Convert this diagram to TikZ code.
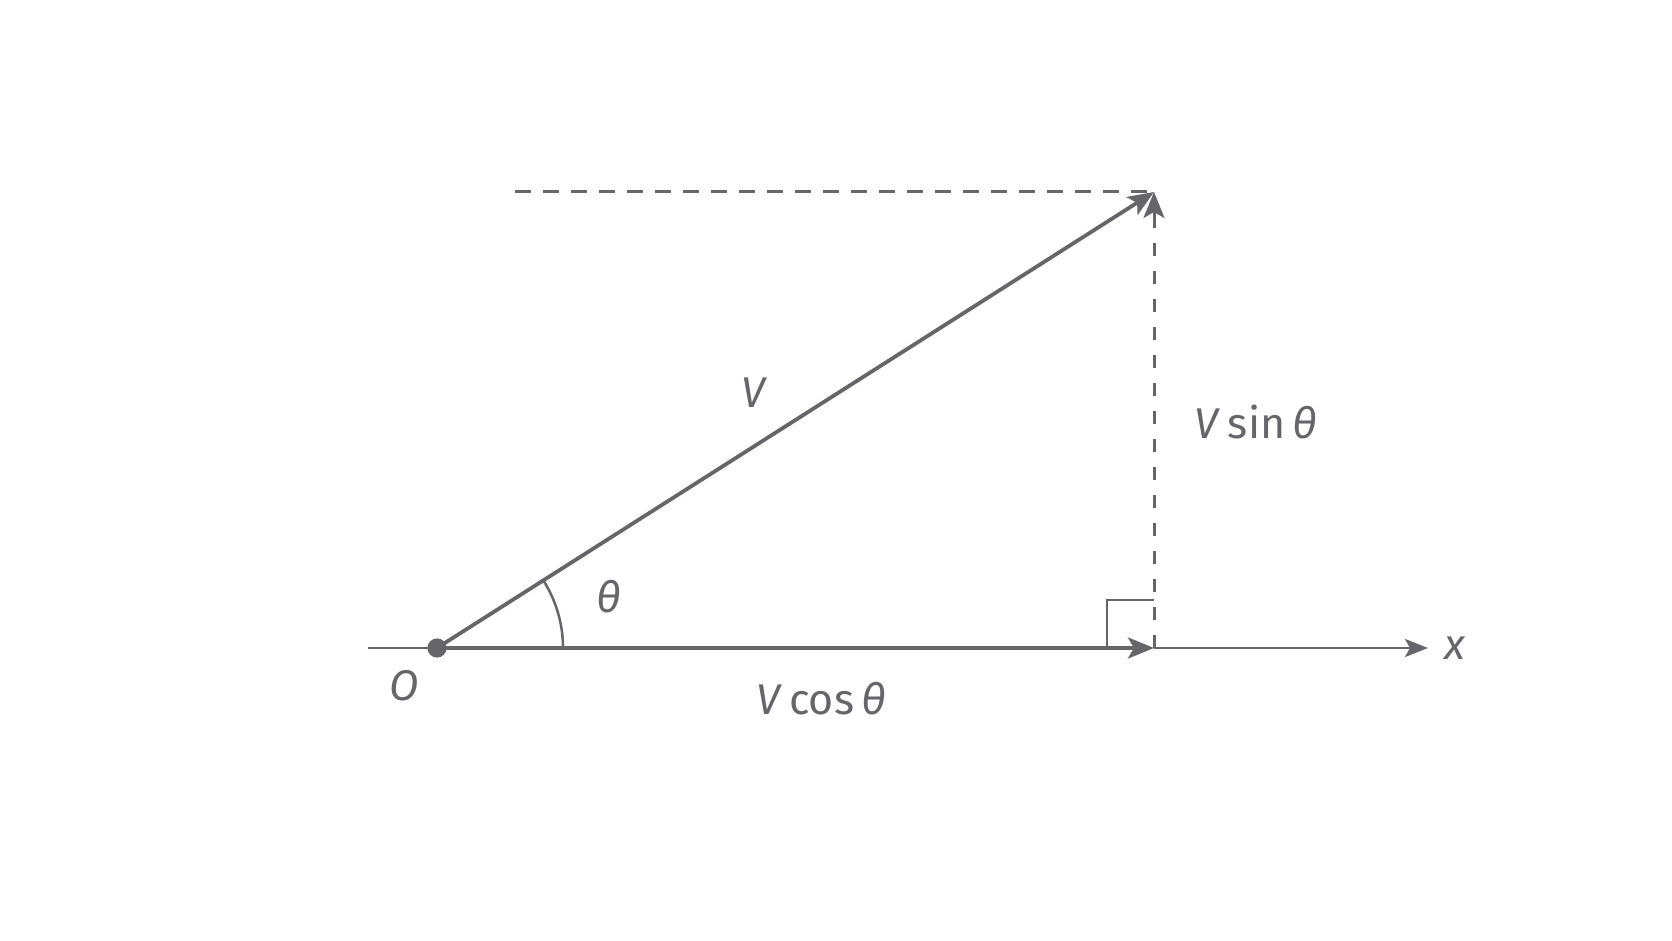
\documentclass[tikz,border=0pt]{standalone}
\usepackage{fontspec}
\setmainfont{Fira Sans}
\usetikzlibrary{arrows.meta}
\definecolor{ink}{RGB}{102,101,106}
\begin{document}
\begin{tikzpicture}[x=0.5pt,y=-0.5pt,
  thickline/.style={draw=ink,line width=1.9pt},
  thinline/.style={draw=ink,line width=1.25pt},
  dashh/.style={draw=ink,line width=1.5pt,dash pattern=on 8pt off 6pt},
  dashv/.style={draw=ink,line width=1.5pt,dash pattern=on 6.5pt off 7.5pt},
  bigtip/.style={-{Stealth[length=13pt,width=10.5pt,inset=3pt]}},
  axtip/.style={-{Stealth[length=11.5pt,width=9pt,inset=2.5pt]}},
  lbl/.style={text=ink,font=\fontsize{21.5}{25}\selectfont,inner sep=0pt}]
\useasboundingbox (0,0) rectangle (1672,941);
\fill[white] (0,0) rectangle (1672,941);
\coordinate (O) at (437,648);
\coordinate (A) at (368,648);
\coordinate (X) at (1428,648);
\coordinate (F) at (1154,648);
\coordinate (T) at (1154,192);
\coordinate (D) at (515,192);
\coordinate (B) at (1154,228);
\coordinate (Q1) at (1107,648);
\coordinate (Q2) at (1107,600);
\coordinate (Q3) at (1154,600);
% axis
\draw[thinline] (A) -- (O);
\draw[thinline,axtip] (F) -- (X);
% dashed projection lines
\draw[dashh] (D) -- (T);
\draw[dashv] (F) -- (B);
\draw[ink,line width=1.5pt,bigtip] (B) -- (T);
% right angle mark
\draw[thinline] (Q1) -- (Q2) -- (Q3);
% vectors
\draw[thickline,bigtip] (O) -- (F);
\draw[thickline,bigtip] (O) -- (T);
% angle arc
\draw[ink,line width=1.25pt] (563,648) arc[start angle=0,end angle=-32.45,radius=126];
% origin dot
\fill[ink] (O) circle[radius=4.8pt];
% labels
\node[lbl] (lO) at (404,686) {\textit{O}};
\node[lbl] (lth) at (609,597) {\textit{θ}};
\node[lbl] (lV) at (754,393) {\textit{V}};
\node[lbl] (lVc) at (821,699) {\textit{V}\,cos\,\textit{θ}};
\node[lbl] (lVs) at (1256,422) {\textit{V}\,sin\,\textit{θ}};
\node[lbl] (lx) at (1455,648) {\textit{x}};
\end{tikzpicture}
\end{document}
